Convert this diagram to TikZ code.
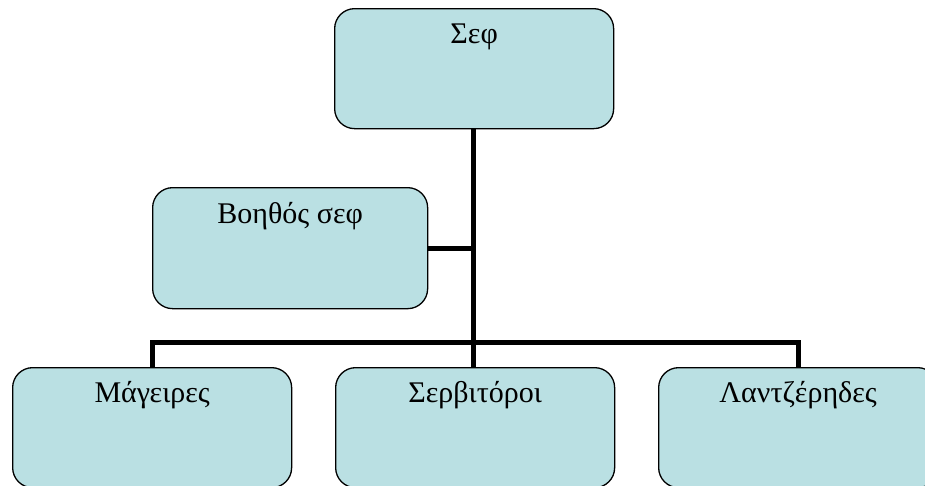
\documentclass[tikz,border=0pt]{standalone}
\usepackage{fontspec}
\setmainfont{Liberation Serif}
\definecolor{boxfill}{HTML}{BAE0E3}
\tikzset{
  orgbox/.style={draw=black, line width=1.3pt, fill=boxfill, rounded corners=20pt,
    anchor=north west, minimum width=279pt, inner xsep=0pt, inner ysep=0pt,
    text height=35pt, text depth=85pt, font=\fontsize{30}{34}\selectfont},
  link/.style={line width=5pt, line cap=butt}
}
\begin{document}
\begin{tikzpicture}[x=1pt,y=-1pt]
\useasboundingbox[fill=white] (0,0) rectangle (925,485);
\node[orgbox] (chef) at (334,8) {Σεφ};
\node[orgbox, minimum width=275pt, text height=36pt, text depth=85pt] (assist) at (152,187) {Βοηθός σεφ};
\node[orgbox] (cooks) at (12,367) {Μάγειρες};
\node[orgbox] (waiters) at (335,367) {Σερβιτόροι};
\node[orgbox] (wash) at (658,367) {Λαντζέρηδες};
\coordinate (j) at (473,342);
\draw[link] (chef.south -| j) -- (j);
\draw[link] (assist.east) -- (assist.east -| j);
\draw[link] (cooks.north) -- (cooks.north |- j) -- (wash.north |- j) -- (wash.north);
\draw[link] (j) -- (waiters.north -| j);
\end{tikzpicture}
\end{document}
